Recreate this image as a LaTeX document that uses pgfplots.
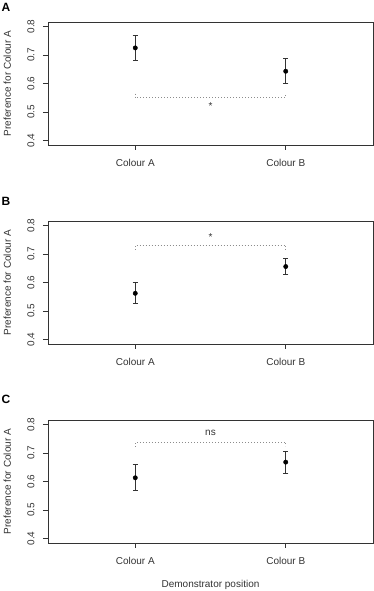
\documentclass[border=0pt]{standalone}
\usepackage{fontspec}
\setmainfont{Liberation Sans}
\usepackage{pgfplots}
\pgfplotsset{compat=1.18}
\definecolor{axgray}{HTML}{333333}
\definecolor{dotgray}{HTML}{8C8C8C}
\pgfplotsset{
  panel/.style={
    scale only axis, width=325pt, height=123pt,
    xmin=0.42, xmax=2.58, ymin=0.384, ymax=0.816,
    xtick={1,2}, xticklabels={Colour A, Colour B},
    ytick={0.4,0.5,0.6,0.7,0.8},
    /pgf/number format/assume math mode=true,
    /pgf/number format/fixed, /pgf/number format/fixed zerofill,
    /pgf/number format/precision=1,
    tick align=outside, xtick pos=bottom, ytick pos=left,
    major tick length=5pt,
    axis line style={draw=axgray, line width=0.8pt},
    tick style={draw=axgray, line width=0.8pt},
    xticklabel style={inner sep=0pt, anchor=north, text=axgray},
    xticklabel shift=9.5pt,
    yticklabel style={rotate=90, anchor=south, inner sep=0pt, text=axgray},
    yticklabel shift=8.4pt,
    every axis y label/.style={at={(axis description cs:-0.1252,0.5)}, rotate=90, anchor=center, text=axgray},
    ylabel={Preference for Colour A},
    every axis title/.style={anchor=center, font=\fontsize{12pt}{14pt}\selectfont\bfseries},
    clip=false,
  },
  pts/.style={only marks, mark=*, mark size=2.2pt, black,
    error bars/.cd, y dir=both, y explicit,
    error bar style={line width=0.8pt, axgray},
    error mark options={rotate=90, mark size=2.6pt, line width=0.8pt, axgray}},
  brk/.style={dotgray, line width=0.8pt, dash pattern=on 0.9pt off 2.1pt, no marks},
}
\begin{document}
\begin{tikzpicture}
\useasboundingbox (0pt,0pt) rectangle (374pt,591pt);
% Panel A
\begin{axis}[panel, at={(48pt,446pt)}, anchor=south west,
  title={A}, title style={at={(axis description cs:-0.129,1.122)}}]
\addplot[pts] coordinates {(1,0.725) +- (0,0.045) (2,0.643) +- (0,0.044)};
\addplot[brk] coordinates {(1,0.564) (1,0.55) (2,0.55) (2,0.564)};
\node[text=axgray, inner sep=0pt] at (axis cs:1.5,0.519) {*};
\end{axis}
% Panel B
\begin{axis}[panel, at={(48pt,247pt)}, anchor=south west,
  title={B}, title style={at={(axis description cs:-0.129,1.161)}}]
\addplot[pts] coordinates {(1,0.562) +- (0,0.037) (2,0.656) +- (0,0.029)};
\addplot[brk] coordinates {(1,0.716) (1,0.732) (2,0.732) (2,0.716)};
\node[text=axgray, inner sep=0pt] at (axis cs:1.5,0.76) {*};
\end{axis}
% Panel C
\begin{axis}[panel, at={(48pt,48pt)}, anchor=south west,
  title={C}, title style={at={(axis description cs:-0.129,1.169)}},
  xlabel={Demonstrator position},
  every axis x label/.style={at={(axis description cs:0.5,-0.3415)}, anchor=center, text=axgray}]
\addplot[pts] coordinates {(1,0.613) +- (0,0.046) (2,0.668) +- (0,0.038)};
\addplot[brk] coordinates {(1,0.723) (1,0.738) (2,0.738) (2,0.723)};
\node[text=axgray, inner sep=0pt] at (axis cs:1.5,0.77) {ns};
\end{axis}
\end{tikzpicture}
\end{document}
